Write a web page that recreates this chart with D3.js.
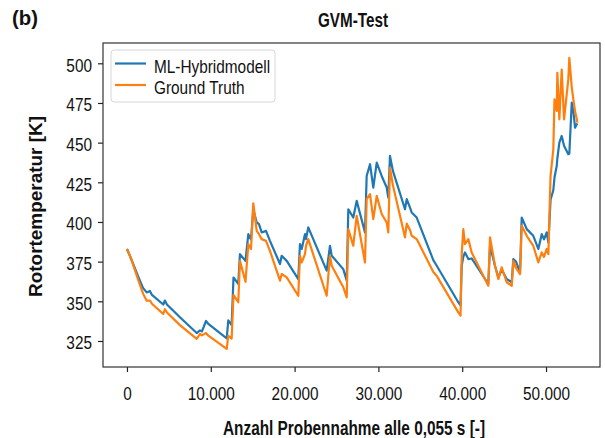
<!DOCTYPE html>
<html>
<head>
<meta charset="utf-8">
<script src="https://cdn.jsdelivr.net/npm/d3@7"></script>
<style>
    body { margin: 0; background: #ffffff; }
    svg { display: block; font-family: "Liberation Sans", Arial, sans-serif; }
</style>
</head>
<body>
<svg id="chart"></svg>
<script>

// DATA

const sampleIndex = [
    0, 480, 1310, 1910, 2350, 2740, 2980, 4330, 4530, 4770,
    6320, 8320, 8710, 8950, 9430, 9670, 11900, 12090, 12490, 12710,
    13280, 13480, 14140, 14480, 14800, 15070, 15480, 15750, 16070, 16590,
    17060, 18260, 18460, 19060, 20440, 20640, 20850, 21240, 21360, 21630,
    23830, 24220, 24430, 25810, 26220, 26410, 27000, 27410, 28400, 28600,
    29000, 29390, 29800, 30390, 30990, 31180, 31380, 31740, 33170, 33380,
    33770, 33970, 34570, 36550, 36960, 39530, 39800, 39940, 40130, 40330,
    40730, 41130, 43110, 43320, 43910, 44310, 44710, 45310, 45910, 46100,
    46420, 46900, 47100, 47700, 48480, 49080, 49490, 49760, 50080, 50280,
    50540, 50870, 51010, 51280, 51350, 51590, 51870, 52150, 52660, 52780,
    53070, 53260, 53460, 53660, 53740
];

const hybridModel = [
    383, 377, 366, 358.5, 355.6, 356.5, 354, 348, 350.5, 348,
    340, 330, 331.7, 331, 337.6, 336, 326.7, 338, 335, 365,
    361, 379.7, 375.5, 392.3, 389, 408, 399.7, 398.6, 393.4, 394.4,
    388.1, 373.5, 378.7, 375.5, 364, 386, 383, 392.3, 389.2, 396.6,
    369.3, 385, 378.7, 370.3, 363, 408, 402.8, 413.3, 393.4, 429,
    436.4, 421.7, 437.4, 429, 421.7, 415.4, 441.6, 432, 408, 414.4,
    409, 406, 402.8, 376, 372.4, 349.4, 347.5, 372.4, 378, 380.8,
    376.6, 377, 360.9, 385, 372.4, 365, 370, 364, 362, 376.6,
    375, 368.2, 402.8, 395.5, 391.3, 383, 392.3, 389, 393.4, 387,
    414, 420, 428, 435.4, 440, 450, 454.2, 448, 442.7, 443,
    475.2, 470, 459.4, 461.6, 461
];

const groundTruth = [
    383, 377, 364, 355, 350.4, 350.5, 348.5, 342, 345, 343,
    335, 326.3, 329.4, 328.5, 330, 328.5, 320, 328.3, 326.5, 354,
    349.4, 375.5, 362.3, 386, 383, 411.8, 394.4, 392.3, 389.2, 388.1,
    381.8, 363, 367.2, 365.1, 353.5, 378.7, 374.5, 379.7, 385, 389.2,
    353.5, 378.7, 372.4, 358.8, 352.5, 395.5, 385, 403.9, 374.5, 414.4,
    417.5, 401.8, 416.5, 405, 399.7, 393.4, 434, 423, 390.3, 399,
    395, 391.3, 389.2, 368.5, 366, 343, 341, 379.7, 395.5, 386,
    389.2, 380.8, 359.8, 390.3, 372.4, 364, 371.4, 362, 359.8, 375.5,
    371, 367.2, 397.6, 391.3, 385, 374.5, 380.8, 378, 383, 379.7,
    429, 445.8, 477.3, 470, 494, 464.7, 496, 464.7, 490, 503.5,
    485, 477.3, 469.9, 465, 462.6
];

const seriesNames = ["ML-Hybridmodell", "Ground Truth"];
const seriesColors = ["#1f77b4", "#ff7f0e"];

const xTicks = [0, 10000, 20000, 30000, 40000, 50000];
const yTicks = [325, 350, 375, 400, 425, 450, 475, 500];


// CHART

const width = 605;
const height = 438;

const margin = { top: 43, right: 5, bottom: 71, left: 103 };

const svg = d3.select("#chart")
    .attr("width", width)
    .attr("height", height);

const x = d3.scaleLinear()
    .domain([-2860, 56440])
    .range([margin.left, width - margin.right]);

const y = d3.scaleLinear()
    .domain([308.6, 512.8])
    .range([height - margin.bottom, margin.top]);

const germanFormat = function (d) {
    return d3.format(",")(d).replace(/,/g, ".");
};

// the original font is a narrow one, so squeeze the text a bit
function condense(selection, factor) {
    selection.each(function () {
        let len = this.getComputedTextLength();
        d3.select(this)
            .attr("textLength", len * factor)
            .attr("lengthAdjust", "spacingAndGlyphs");
    });
}


// Axes

const xAxis = svg.append("g")
    .attr("transform", "translate(0," + (height - margin.bottom) + ")")
    .call(d3.axisBottom(x).tickValues(xTicks).tickFormat(germanFormat).tickSize(5).tickPadding(5));

const yAxis = svg.append("g")
    .attr("transform", "translate(" + margin.left + ",0)")
    .call(d3.axisLeft(y).tickValues(yTicks).tickSize(5).tickPadding(6));

for (let axis of [xAxis, yAxis]) {
    axis.select(".domain").remove();
    axis.selectAll(".tick line").attr("stroke", "#222").attr("stroke-width", 1.2);
    axis.selectAll(".tick text")
        .attr("fill", "#111")
        .style("font-size", "18.5px")
        .style("font-family", "'Liberation Sans', Arial, sans-serif");
    condense(axis.selectAll(".tick text"), 0.83);
}

yAxis.selectAll(".tick text").attr("dy", "0.42em");
xAxis.selectAll(".tick text").attr("dy", "1.24em");


// Lines

const lineData = [hybridModel, groundTruth];

for (let s = 0; s < lineData.length; s++) {

    let values = lineData[s];

    let line = d3.line()
        .x(function (d, i) { return x(sampleIndex[i]); })
        .y(function (d) { return y(d); });

    svg.append("path")
        .datum(values)
        .attr("d", line)
        .attr("fill", "none")
        .attr("stroke", seriesColors[s])
        .attr("stroke-width", 2.2)
        .attr("stroke-linejoin", "round");

}


// Frame

svg.append("rect")
    .attr("x", margin.left)
    .attr("y", margin.top)
    .attr("width", width - margin.left - margin.right)
    .attr("height", height - margin.top - margin.bottom)
    .attr("fill", "none")
    .attr("stroke", "#333")
    .attr("stroke-width", 1.2);


// Legend

const legend = svg.append("g");

legend.append("rect")
    .attr("x", 111)
    .attr("y", 50)
    .attr("width", 164)
    .attr("height", 52)
    .attr("rx", 3)
    .attr("fill", "rgba(255,255,255,0.8)")
    .attr("stroke", "#d6d6d6")
    .attr("stroke-width", 1);

for (let s = 0; s < seriesNames.length; s++) {

    let rowY = 63.5 + s * 21.5;

    legend.append("line")
        .attr("x1", 115)
        .attr("x2", 146)
        .attr("y1", rowY)
        .attr("y2", rowY)
        .attr("stroke", seriesColors[s])
        .attr("stroke-width", 2.2);

    legend.append("text")
        .attr("x", 154)
        .attr("y", rowY + 9)
        .attr("fill", "#111")
        .style("font-size", "18.5px")
        .text(seriesNames[s]);

}

condense(legend.selectAll("text"), 0.83);


// Titles (widths)

function boldLabel(text, size, length) {
    return svg.append("text")
        .attr("fill", "#111")
        .attr("textLength", length)
        .attr("lengthAdjust", "spacingAndGlyphs")
        .style("font-size", size + "px")
        .style("font-weight", "bold")
        .text(text);
}

boldLabel("GVM-Test", 20.5, 70)
    .attr("x", 318)
    .attr("y", 27);

boldLabel("(b)", 19.5, 26)
    .attr("x", 12)
    .attr("y", 25);

boldLabel("Anzahl Probennahme alle 0,055 s [-]", 20.5, 262)
    .attr("x", 223)
    .attr("y", 435);

boldLabel("Rotortemperatur [K]", 19, 181)
    .attr("transform", "translate(42,297) rotate(-90)");

</script>
</body>
</html>
